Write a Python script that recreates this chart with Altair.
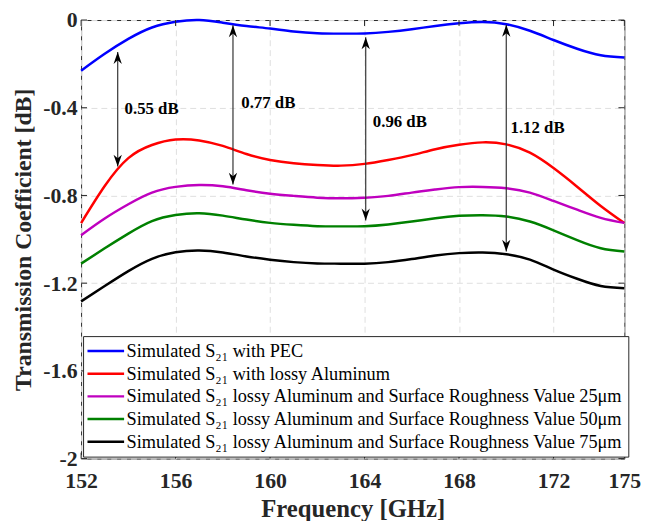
import altair as alt
import pandas as pd

# ---------------- data ----------------
freq = list(range(152, 176))

pec = [-0.231, -0.154, -0.086, -0.034, -0.008, -0.000, -0.012, -0.027, -0.039, -0.052,
       -0.060, -0.062, -0.061, -0.054, -0.042, -0.027, -0.015, -0.009, -0.019, -0.049,
       -0.091, -0.131, -0.161, -0.171]
alu = [-0.926, -0.757, -0.630, -0.570, -0.545, -0.549, -0.574, -0.611, -0.638, -0.653,
       -0.661, -0.664, -0.656, -0.638, -0.616, -0.589, -0.569, -0.558, -0.567, -0.605,
       -0.675, -0.760, -0.848, -0.926]
r25 = [-0.981, -0.905, -0.840, -0.787, -0.761, -0.752, -0.758, -0.776, -0.792, -0.802,
       -0.810, -0.813, -0.810, -0.802, -0.787, -0.773, -0.762, -0.761, -0.767, -0.787,
       -0.825, -0.865, -0.902, -0.925]
r50 = [-1.111, -1.041, -0.974, -0.917, -0.889, -0.881, -0.892, -0.910, -0.925, -0.934,
       -0.940, -0.941, -0.940, -0.932, -0.919, -0.904, -0.893, -0.890, -0.896, -0.919,
       -0.959, -1.004, -1.041, -1.056]
r75 = [-1.283, -1.213, -1.145, -1.089, -1.059, -1.051, -1.060, -1.078, -1.093, -1.104,
       -1.110, -1.111, -1.111, -1.104, -1.090, -1.074, -1.063, -1.060, -1.068, -1.093,
       -1.138, -1.180, -1.213, -1.223]

series_names = [
    "Simulated S\u2082\u2081 with PEC",
    "Simulated S\u2082\u2081 with lossy Aluminum",
    "Simulated S\u2082\u2081 lossy Aluminum and Surface Roughness Value 25\u03bcm",
    "Simulated S\u2082\u2081 lossy Aluminum and Surface Roughness Value 50\u03bcm",
    "Simulated S\u2082\u2081 lossy Aluminum and Surface Roughness Value 75\u03bcm",
]
series_colors = ["#0000FF", "#FF0000", "#BF00BF", "#008000", "#000000"]

arrow_x = [153.55, 158.43, 164.05, 170.0]
arrow_top = [-0.146, -0.024, -0.079, -0.022]
arrow_bottom = [-0.668, -0.750, -0.914, -1.056]

label_text = ["0.55 dB", "0.77 dB", "0.96 dB", "1.12 dB"]
label_x = [153.84, 158.78, 164.35, 170.18]
label_y = [-0.407, -0.377, -0.467, -0.492]

x_ticks = [152, 156, 160, 164, 168, 172, 175]
y_ticks = [-2, -1.6, -1.2, -0.8, -0.4, 0]

# ---------------- tables ----------------
rows = []
for name, vals in zip(series_names, [pec, alu, r25, r50, r75]):
    for f, v in zip(freq, vals):
        rows.append({"freq": f, "value": v, "series": name})
df = pd.DataFrame(rows)

arrows = pd.DataFrame({"x": arrow_x, "top": arrow_top, "bottom": arrow_bottom})
labels = pd.DataFrame({"x": label_x, "y": label_y, "text": label_text})
xt = pd.DataFrame({"t": x_ticks})
yt = pd.DataFrame({"t": y_ticks})

W, H = 550, 444
SERIF = "Liberation Serif"
AX = "#262626"
XT = "Frequency [GHz]"
YT = "Transmission Coefficient [dB]"

xscale = alt.Scale(domain=[152, 175], nice=False, zero=False)
yscale = alt.Scale(domain=[-2, 0], nice=False, zero=False)

lines = alt.Chart(df).mark_line(strokeWidth=2.5, interpolate="natural").encode(
    x=alt.X("freq:Q", scale=xscale, title=XT,
            axis=alt.Axis(values=x_ticks, format="d", labelPadding=12, titlePadding=6,
                          labelFlush=False)),
    y=alt.Y("value:Q", scale=yscale, title=YT,
            axis=alt.Axis(values=y_ticks, labelPadding=4, titlePadding=7, labelFlush=False,
                          titleFontSize=24,
                          labelExpr="datum.value == 0 ? '0' : '-' + format(abs(datum.value), '.1~f')")),
    color=alt.Color("series:N", sort=series_names,
                    scale=alt.Scale(domain=series_names, range=series_colors),
                    legend=alt.Legend(title=None, orient="none", legendX=2, legendY=320,
                                      direction="vertical",
                                      symbolType="M-2.14,0H2.14", symbolSize=300,
                                      symbolStrokeWidth=2.5, symbolOffset=8,
                                      labelOffset=11, labelFont=SERIF, labelFontSize=18.5,
                                      labelColor="black", labelLimit=700,
                                      padding=5, rowPadding=3,
                                      strokeColor=AX, fillColor="white")),
)

shafts = alt.Chart(arrows).mark_rule(color="#333333", strokeWidth=1.2).encode(
    x=alt.X("x:Q", title=XT), y=alt.Y("top:Q", title=YT), y2="bottom:Q")

head_up = alt.Chart(arrows).mark_point(
    shape="M0,0L0.35,1L0,0.7L-0.35,1Z", size=576, filled=True, color="black", opacity=1,
    strokeWidth=0).encode(x=alt.X("x:Q", title=XT), y=alt.Y("top:Q", title=YT))

head_down = alt.Chart(arrows).mark_point(
    shape="M0,0L0.35,-1L0,-0.7L-0.35,-1Z", size=576, filled=True, color="black", opacity=1,
    strokeWidth=0).encode(x=alt.X("x:Q", title=XT), y=alt.Y("bottom:Q", title=YT))

texts = alt.Chart(labels).mark_text(
    font=SERIF, fontWeight="bold", fontSize=17, align="left", baseline="middle",
    color="black").encode(x=alt.X("x:Q", title=XT), y=alt.Y("y:Q", title=YT), text="text:N")

tick_style = dict(color=AX, strokeWidth=1)
xb = alt.Chart(xt).mark_rule(**tick_style).encode(
    x=alt.X("t:Q", title=XT), y=alt.value(H), y2=alt.value(H - 6))
xtop = alt.Chart(xt).mark_rule(**tick_style).encode(
    x=alt.X("t:Q", title=XT), y=alt.value(0), y2=alt.value(6))
yl = alt.Chart(yt).mark_rule(**tick_style).encode(
    y=alt.Y("t:Q", title=YT), x=alt.value(0), x2=alt.value(6))
yr = alt.Chart(yt).mark_rule(**tick_style).encode(
    y=alt.Y("t:Q", title=YT), x=alt.value(W), x2=alt.value(W - 6))

chart = alt.layer(lines, shafts, head_up, head_down, texts, xb, xtop, yl, yr).properties(
    width=W, height=H,
    padding={"left": 74, "top": 9, "right": 30, "bottom": 60},
    autosize=alt.AutoSizeParams(type="none"),
    background="white",
).configure_view(
    stroke=AX, strokeWidth=1
).configure_axis(
    domain=False, ticks=False,
    grid=True, gridColor="#dedede", gridDash=[6, 4], gridWidth=1,
    labelFont=SERIF, labelFontWeight="bold", labelFontSize=22, labelColor=AX,
    titleFont=SERIF, titleFontWeight="bold", titleFontSize=25, titleColor=AX,
)

chart.save("out.html", embed_options={"renderer": "svg", "actions": False})
